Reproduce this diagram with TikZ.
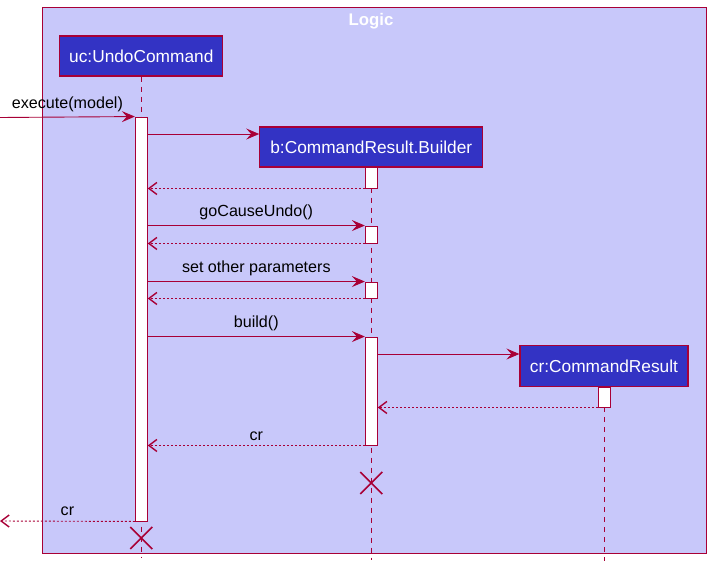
\documentclass[tikz,border=0pt]{standalone}
\usepackage{fontspec}
\setmainfont{Liberation Sans}
\usetikzlibrary{arrows.meta, positioning, calc}
\definecolor{logicfill}{HTML}{C8C8FA}
\definecolor{logicblue}{HTML}{3333C4}
\definecolor{umlred}{HTML}{A80036}

\tikzset{
    participant/.style={draw=umlred, fill=logicblue, line width=1.2pt, text=white,
        font=\fontsize{17.3}{20}\selectfont, minimum height=40pt, inner sep=0pt},
    activation/.style={draw=umlred, fill=white, line width=0.9pt, minimum width=12pt, inner sep=0pt},
    lifeline/.style={umlred, line width=0.9pt, dash pattern=on 5pt off 5pt},
    msg/.style={umlred, line width=0.9pt, -{Stealth[length=13pt, width=11pt, inset=5pt]}},
    reply/.style={umlred, line width=0.9pt, dash pattern=on 2pt off 2pt,
        -{Straight Barb[length=8pt, width=12pt, line width=1.4pt]}},
    msglabel/.style={above=1.5pt, text=black, font=\fontsize{16.1}{18}\selectfont},
    destroy/.style={umlred, line width=1.6pt},
}

\begin{document}
\begin{tikzpicture}[x=1pt, y=-1pt]
        \useasboundingbox (0,0) rectangle (711,568);

        % Logic frame
        \draw[umlred, fill=logicfill, line width=1pt] (42,7) rectangle (706,553);
        \node[text=white, font=\bfseries\fontsize{16.8}{20}\selectfont] (title) at (371,21) {Logic};

        % Participants
        \node[participant, minimum width=163pt] (uc) at (141.3,56) {uc:UndoCommand};
        \node[participant, minimum width=223pt] (b) at (371.3,147) {b:CommandResult.Builder};
        \node[participant, minimum width=168pt, minimum height=41pt] (cr) at (604,366) {cr:CommandResult};

        % Lifelines
        \draw[lifeline] (uc.south) -- (uc.south |- 0,558);
        \draw[lifeline] (b.south) -- (b.south |- 0,560);
        \draw[lifeline] (cr.south) -- (cr.south |- 0,561);

        % Activations
        \node[activation, minimum height=404pt] (ucact) at (141.3,319) {};
        \node[activation, minimum height=21pt] (bact1) at (371.3,177.5) {};
        \node[activation, minimum height=17pt] (bact2) at (371.3,234.5) {};
        \node[activation, minimum height=16pt] (bact3) at (371.3,290) {};
        \node[activation, minimum height=108pt] (bact4) at (371.3,391) {};
        \node[activation, minimum height=20pt] (cract) at (604,397) {};

        % Messages
        \coordinate (in) at (0,117.5);
        \coordinate (out) at (0,521);
        \draw[msg] (in) -- (ucact.north west) node[midway, msglabel] {execute(model)};
        \draw[msg] (ucact.east |- 0,134) -- (b.west |- 0,134);
        \draw[reply] (bact1.south west) -- (ucact.east |- bact1.south);
        \draw[msg] (ucact.east |- bact2.north) -- (bact2.north west) node[midway, msglabel] {goCauseUndo()};
        \draw[reply] (bact2.south west) -- (ucact.east |- bact2.south);
        \draw[msg] (ucact.east |- bact3.north) -- (bact3.north west) node[midway, msglabel] {set other parameters};
        \draw[reply] (bact3.south west) -- (ucact.east |- bact3.south);
        \draw[msg] (ucact.east |- bact4.north) -- (bact4.north west) node[midway, msglabel] {build()};
        \draw[msg] (bact4.east |- 0,354) -- (cr.west |- 0,354);
        \draw[reply] (cract.south west) -- (bact4.east |- cract.south);
        \draw[reply] (bact4.south west) -- (ucact.east |- bact4.south) node[midway, msglabel] {cr};
        \draw[reply] (ucact.south west) -- (out) node[midway, msglabel] {cr};

        % Destroy marks
        \coordinate (ucx) at (141.3,538);
        \coordinate (bx) at (371.3,483);
        \draw[destroy] (ucx) ++(-11,-11) -- ++(22,22) (ucx) ++(-11,11) -- ++(22,-22);
        \draw[destroy] (bx) ++(-11,-11) -- ++(22,22) (bx) ++(-11,11) -- ++(22,-22);
\end{tikzpicture}
\end{document}
